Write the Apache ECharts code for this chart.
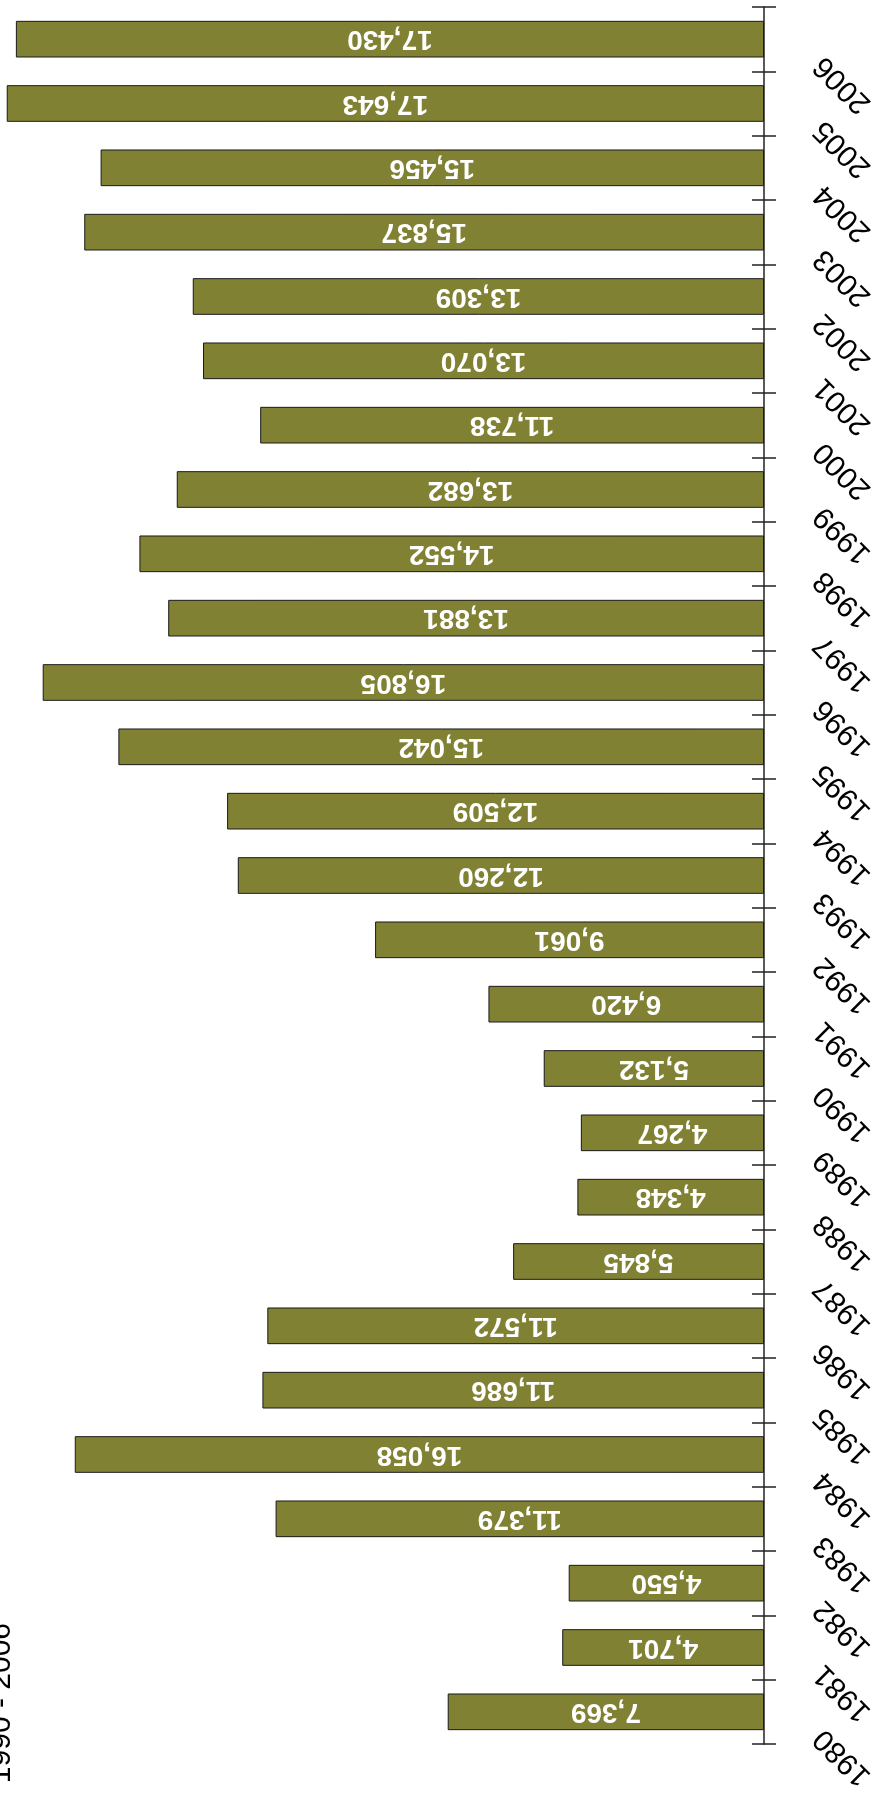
<!DOCTYPE html>
<html>
<head>
<meta charset="utf-8">
<script src="https://cdn.jsdelivr.net/npm/echarts@6/dist/echarts.min.js"></script>
<style>
html,body{margin:0;padding:0;background:#fff;}
#chart{width:890px;height:1797px;}
</style>
</head>
<body>
<div id="chart"></div>
<script>
const years = ['1980','1981','1982','1983','1984','1985','1986','1987','1988','1989','1990','1991','1992','1993','1994','1995','1996','1997','1998','1999','2000','2001','2002','2003','2004','2005','2006'];
const values = [7369,4701,4550,11379,16058,11686,11572,5845,4348,4267,5132,6420,9061,12260,12509,15042,16805,13881,14552,13682,11738,13070,13309,15837,15456,17643,17430];
const titleText = '1990 - 2006';

const chart = echarts.init(document.getElementById('chart'), null, {renderer:'canvas'});
const font = '"Liberation Sans", Arial, sans-serif';
chart.setOption({
  animation:false,
  grid:{left:0,right:126,top:7,bottom:53,containLabel:false},
  xAxis:{type:'value',inverse:true,min:0,max:17800,show:false,splitLine:{show:false}},
  yAxis:[{
    type:'category',position:'right',data:years,
    axisLine:{show:true,lineStyle:{color:'#222',width:1.5}},
    axisTick:{show:true,inside:false,length:12,lineStyle:{color:'#222',width:1.5}},
    axisLabel:{rotate:135,align:'right',verticalAlign:'middle',margin:33,padding:[0,31,0,0],
      color:'#000',fontSize:30,fontFamily:font}
  },{
    type:'category',position:'right',data:years,
    axisLine:{show:false},
    axisTick:{show:true,inside:true,length:12,lineStyle:{color:'#222',width:1.5}},
    axisLabel:{show:false}
  }],
  series:[{
    type:'bar',yAxisIndex:0,data:values,barCategoryGap:'43%',
    itemStyle:{color:'#818134',borderColor:'#1a1a1a',borderWidth:1},
    label:{show:true,position:'inside',rotate:180,color:'#fff',fontWeight:'bold',fontSize:28,fontFamily:font,
      formatter:p=>p.value.toLocaleString('en-US')}
  }],
  graphic:[{
    type:'text',x:2,y:1623,rotation:Math.PI/2,
    style:{text:titleText,fill:'#000',fontSize:30,fontFamily:font,textAlign:'right',textVerticalAlign:'middle'}
  }]
});
</script>
</body>
</html>
